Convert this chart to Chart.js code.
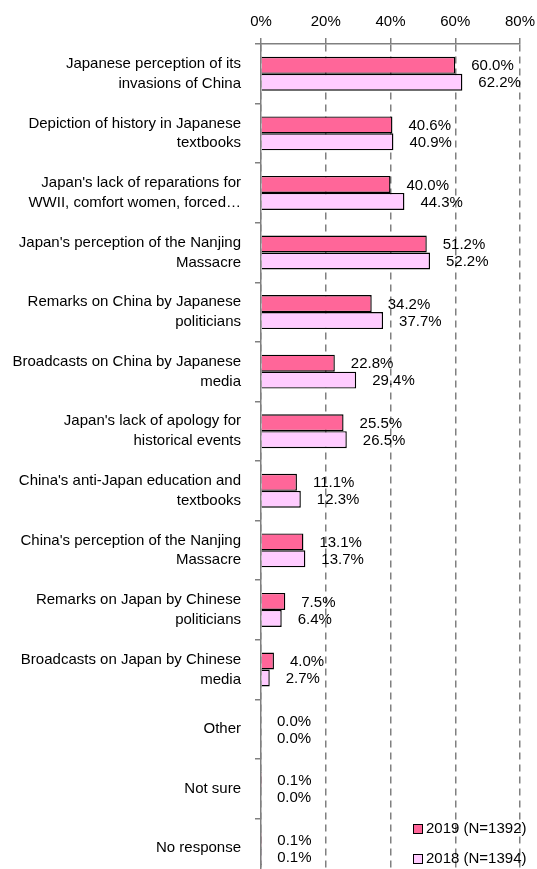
<!DOCTYPE html>
<html>
<head>
<meta charset="utf-8">
<script src="https://cdn.jsdelivr.net/npm/chart.js@4/dist/chart.umd.min.js"></script>
<style>
  html, body { margin: 0; padding: 0; background: #fff; overflow: hidden; }
  #wrap { position: relative; width: 537px; height: 878px; }
  .legend { position: absolute; left: 413px; white-space: nowrap; font: 15px "Liberation Sans", Arial, sans-serif; color: #000; }
  .legend span { display: inline-block; width: 8px; height: 8px; border: 1px solid #000; margin-right: 3px; vertical-align: -1px; }
</style>
</head>
<body>
<div id="wrap">
  <canvas id="chart" width="537" height="878"></canvas>
  <div class="legend" style="top:819px"><span style="background:#ff6699"></span>2019 (N=1392)</div>
  <div class="legend" style="top:849px"><span style="background:#ffccff"></span>2018 (N=1394)</div>
</div>
<script>
// Reasons for negative impression (shares, %)
const categories = [
  ['Japanese perception of its', 'invasions of China'],
  ['Depiction of history in Japanese', 'textbooks'],
  ["Japan's lack of reparations for", 'WWII, comfort women, forced\u2026'],
  ["Japan's perception of the Nanjing", 'Massacre'],
  ['Remarks on China by Japanese', 'politicians'],
  ['Broadcasts on China by Japanese', 'media'],
  ["Japan's lack of apology for", 'historical events'],
  ["China's anti-Japan education and", 'textbooks'],
  ["China's perception of the Nanjing", 'Massacre'],
  ['Remarks on Japan by Chinese', 'politicians'],
  ['Broadcasts on Japan by Chinese', 'media'],
  'Other',
  'Not sure',
  'No response'
];
const values2019 = [60.0, 40.6, 40.0, 51.2, 34.2, 22.8, 25.5, 11.1, 13.1, 7.5, 4.0, 0.0, 0.1, 0.1];
const values2018 = [62.2, 40.9, 44.3, 52.2, 37.7, 29.4, 26.5, 12.3, 13.7, 6.4, 2.7, 0.0, 0.0, 0.1];
const xTicks = [0, 20, 40, 60, 80];

const FONT = '"Liberation Sans", Arial, sans-serif';

// draw the value next to each bar end
const valueLabels = {
  id: 'valueLabels',
  afterDatasetsDraw(chart) {
    const ctx = chart.ctx;
    ctx.save();
    ctx.font = '15px ' + FONT;
    ctx.fillStyle = '#000';
    ctx.textAlign = 'left';
    ctx.textBaseline = 'middle';
    chart.data.datasets.forEach((ds, i) => {
      chart.getDatasetMeta(i).data.forEach((bar, j) => {
        ctx.fillText(ds.data[j].toFixed(1) + '%', bar.x + 16, bar.y + 1);
      });
    });
    ctx.restore();
  }
};

new Chart(document.getElementById('chart'), {
  type: 'bar',
  data: {
    labels: categories,
    datasets: [
      { label: '2019 (N=1392)', data: values2019, backgroundColor: '#ff6699', borderColor: '#000', borderWidth: 1.4 },
      { label: '2018 (N=1394)', data: values2018, backgroundColor: '#ffccff', borderColor: '#000', borderWidth: 1.4 }
    ]
  },
  options: {
    indexAxis: 'y',
    responsive: false,
    animation: false,
    layout: { padding: { top: 0, right: 17, bottom: 0, left: 0 } },
    datasets: { bar: { categoryPercentage: 0.57, barPercentage: 1.0 } },
    plugins: { legend: { display: false }, tooltip: { enabled: false } },
    scales: {
      x: {
        position: 'top',
        min: 0,
        max: 80,
        afterBuildTicks: s => { s.ticks = xTicks.map(v => ({ value: v })); },
        afterFit: s => { s.height = 44; s.paddingLeft = 0; s.paddingRight = 0; },
        ticks: { callback: v => v + '%', color: '#000', font: { family: FONT, size: 15 }, padding: 7 },
        grid: { color: '#808080', lineWidth: 1.5, tickLength: 6, tickColor: '#808080' },
        border: { display: true, color: '#808080', width: 1.5, dash: [7, 5] }
      },
      y: {
        afterFit: s => { s.width = 261; s.paddingTop = 0; s.paddingBottom = 0; },
        ticks: { color: '#000', font: { family: FONT, size: 15, lineHeight: 1.33 }, padding: 14 },
        grid: { offset: true, drawOnChartArea: false, tickLength: 6, color: '#808080', lineWidth: 1.5 },
        border: { display: true, color: '#808080', width: 1.5 }
      }
    }
  },
  plugins: [valueLabels]
});
</script>
</body>
</html>
